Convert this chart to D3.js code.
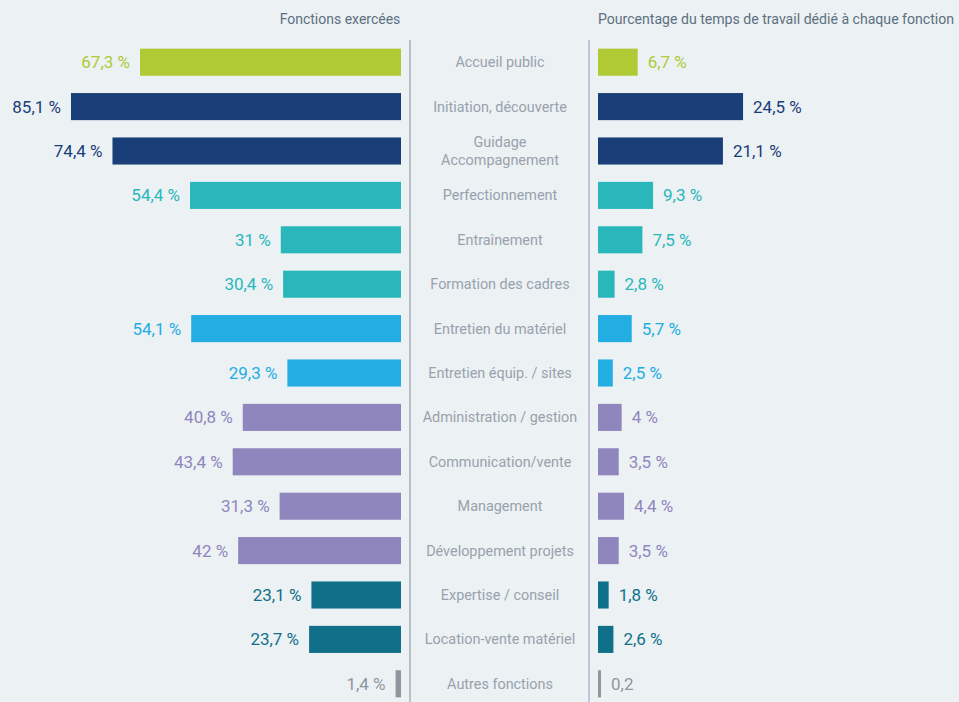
<!DOCTYPE html>
<html>
<head>
<meta charset="utf-8">
<script src="https://cdn.jsdelivr.net/npm/d3@7"></script>
<style>
  html, body { margin: 0; padding: 0; background: #ecf1f4; }
  svg { display: block; font-family: Roboto, "Open Sans", sans-serif; }
</style>
</head>
<body>
<div class="chart"></div>
<script>
// categories (top to bottom)
var categories = ["Accueil public", "Initiation, découverte", "Guidage|Accompagnement", "Perfectionnement",
    "Entraînement", "Formation des cadres", "Entretien du matériel", "Entretien équip. / sites",
    "Administration / gestion", "Communication/vente", "Management", "Développement projets",
    "Expertise / conseil", "Location-vente matériel", "Autres fonctions"];

// % exerçant la fonction
var fonctions = [67.3, 85.1, 74.4, 54.4, 31, 30.4, 54.1, 29.3, 40.8, 43.4, 31.3, 42, 23.1, 23.7, 1.4];
var fonctionsLabels = ["67,3 %", "85,1 %", "74,4 %", "54,4 %", "31 %", "30,4 %", "54,1 %", "29,3 %",
    "40,8 %", "43,4 %", "31,3 %", "42 %", "23,1 %", "23,7 %", "1,4 %"];

// % du temps de travail
var temps = [6.7, 24.5, 21.1, 9.3, 7.5, 2.8, 5.7, 2.5, 4, 3.5, 4.4, 3.5, 1.8, 2.6, 0.2];
var tempsLabels = ["6,7 %", "24,5 %", "21,1 %", "9,3 %", "7,5 %", "2,8 %", "5,7 %", "2,5 %",
    "4 %", "3,5 %", "4,4 %", "3,5 %", "1,8 %", "2,6 %", "0,2"];

// colour group per row
var groups = ["accueil", "init", "init", "perf", "perf", "perf", "entretien", "entretien",
    "admin", "admin", "admin", "admin", "expert", "expert", "autre"];

var colors = {
    accueil: "#afca35",
    init: "#1a3e78",
    perf: "#29b7bc",
    entretien: "#22ade3",
    admin: "#8f86be",
    expert: "#10708a",
    autre: "#8f969e"
};

var width = 959, height = 702;

var svg = d3.select(".chart").append("svg")
    .attr("width", width)
    .attr("height", height);

var y = d3.scaleBand()
    .domain(d3.range(categories.length))
    .range([40, 706])
    .paddingInner(0.39)
    .paddingOuter(0.195);

var xLeft = d3.scaleLinear().domain([0, 100]).range([401, 13.2]);
var xRight = d3.scaleLinear().domain([0, 100]).range([598, 1190]);

// titles
svg.append("text")
    .attr("x", 340).attr("y", 24)
    .attr("text-anchor", "middle")
    .attr("fill", "#5c7080")
    .style("font-size", "14px")
    .text("Fonctions exercées");

svg.append("text")
    .attr("x", 776).attr("y", 24)
    .attr("text-anchor", "middle")
    .attr("fill", "#5c7080")
    .style("font-size", "14.1px")
    .text("Pourcentage du temps de travail dédié à chaque fonction");

// dividers
svg.append("line")
    .attr("x1", 410).attr("x2", 410)
    .attr("y1", 40).attr("y2", height)
    .attr("stroke", "#b8c1c9").attr("stroke-width", 2);

svg.append("line")
    .attr("x1", 589).attr("x2", 589)
    .attr("y1", 40).attr("y2", height)
    .attr("stroke", "#c4c2e0").attr("stroke-width", 2);

var rows = svg.selectAll("g.row")
    .data(categories)
    .enter()
    .append("g")
    .attr("class", "row");

// left bars
rows.append("rect")
    .attr("x", function(d, i) { return xLeft(fonctions[i]); })
    .attr("y", function(d, i) { return y(i); })
    .attr("width", function(d, i) { return xLeft(0) - xLeft(fonctions[i]); })
    .attr("height", y.bandwidth())
    .attr("fill", function(d, i) { return colors[groups[i]]; });

rows.append("text")
    .attr("x", function(d, i) { return xLeft(fonctions[i]) - 10; })
    .attr("y", function(d, i) { return y(i) + y.bandwidth() / 2; })
    .attr("dy", "0.35em")
    .attr("text-anchor", "end")
    .attr("fill", function(d, i) { return colors[groups[i]]; })
    .style("font-size", "17px")
    .text(function(d, i) { return fonctionsLabels[i]; });

// right bars
rows.append("rect")
    .attr("x", xRight(0))
    .attr("y", function(d, i) { return y(i); })
    .attr("width", function(d, i) { return Math.max(xRight(temps[i]) - xRight(0), 3); })
    .attr("height", y.bandwidth())
    .attr("fill", function(d, i) { return colors[groups[i]]; });

rows.append("text")
    .attr("x", function(d, i) { return Math.max(xRight(temps[i]), xRight(0) + 3) + 10; })
    .attr("y", function(d, i) { return y(i) + y.bandwidth() / 2; })
    .attr("dy", "0.35em")
    .attr("fill", function(d, i) { return colors[groups[i]]; })
    .style("font-size", "17px")
    .text(function(d, i) { return tempsLabels[i]; });

// category labels
rows.append("text")
    .attr("x", 500)
    .attr("y", function(d, i) { return y(i) + y.bandwidth() / 2; })
    .attr("text-anchor", "middle")
    .attr("fill", "#98a2ac")
    .style("font-size", "14.4px")
    .each(function(d) {
        var parts = d.split("|");
        var t = d3.select(this);
        parts.forEach(function(p, k) {
            t.append("tspan")
                .attr("x", 500)
                .attr("dy", k === 0 ? (0.35 - (parts.length - 1) * 0.62) + "em" : "1.24em")
                .text(p);
        });
    });
</script>
</body>
</html>
